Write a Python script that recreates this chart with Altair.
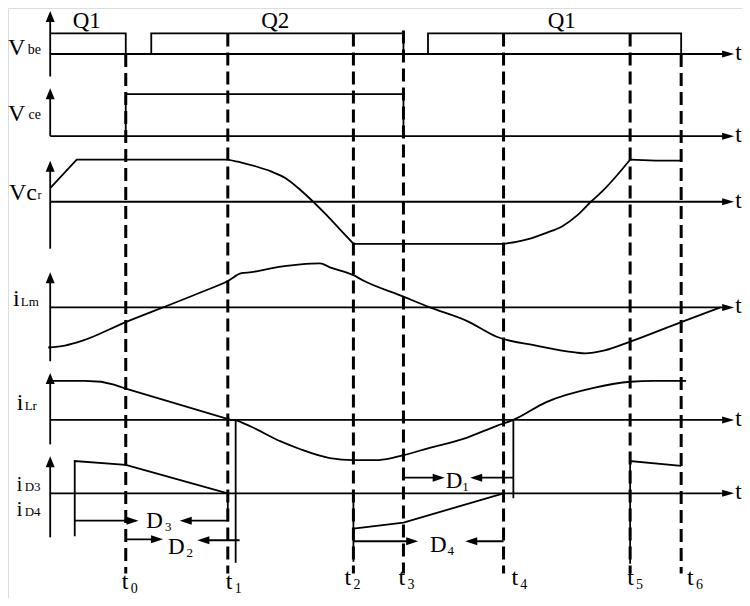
import altair as alt
import pandas as pd

# ---------------- diagram data (drawing units; y grows downward) ----------------
T_ORIGIN = 45          # time origin (vertical axes)
T_ARROW = 742          # tip of the time axes

# switching instants t0..t6
EVENT_NAMES = ["0", "1", "2", "3", "4", "5", "6"]
EVENT_T = [122, 226, 354, 405, 507, 636, 688]
EVENT_DASH_TOP = [49, 28, 28, 25, 28, 28, 49]
EVENT_DASH_BOTTOM = [580, 580, 580, 580, 580, 580, 580]
EVENT_LABEL_T = [118, 224, 345, 400, 515, 633, 694]
EVENT_LABEL_Y = [596, 596, 592, 592, 592, 592, 592]

# rows of the diagram: Vbe, Vce, Vcr, iLm, iLr, iD
ROW_BASE = [49, 133, 200, 308, 423, 498]
ROW_AXIS_TOP = [5, 84, 158, 272, 375, 460]
ROW_AXIS_BOTTOM = [72, 133, 248, 363, 448, 543]

# waveforms: time, value (positive = up, relative to the row baseline)
VBE_T = [45, 122, 122, 148, 148, 405, 405, 430, 430, 688, 688]
VBE_V = [21, 21, 0, 0, 21, 21, 0, 0, 21, 21, 0]

VCE_T = [122, 122, 405, 405]
VCE_V = [0, 43, 43, 0]

# resonant capacitor voltage: straight pieces and resonant (curved) pieces
VCR_LIN_A_T = [45, 72, 226]
VCR_LIN_A_V = [14, 43, 43]
VCR_FALL_T = [226, 240, 255, 270, 285, 300, 313, 325, 340, 354]
VCR_FALL_V = [43, 40, 36, 31, 24, 12, 0, -12, -28, -43]
VCR_LIN_B_T = [354, 507]
VCR_LIN_B_V = [-43, -43]
VCR_RISE_T = [507, 520, 533, 550, 567, 582, 596, 608, 620, 636]
VCR_RISE_V = [-43, -41, -38, -32, -25, -14, 0, 11, 24, 43]
VCR_LIN_C_T = [636, 662, 688]
VCR_LIN_C_V = [43, 42, 42]

ILM_T = [43, 60, 78, 122, 160, 200, 226, 240, 250, 270, 300, 320, 330, 354, 363, 405, 432, 470, 500,
         540, 580, 590, 610, 636, 688, 728]
ILM_V = [-41, -39, -34, -15, 0, 16, 27, 35, 36, 40, 44, 45, 41, 33, 28, 11, 0, -14, -30,
         -39, -46, -47, -44, -35, -15, 0]

# resonant current: straight decay to t1, then resonant curve
ILR_LIN_T = [45, 80, 97, 110, 122, 229, 234]
ILR_LIN_V = [40, 40, 39, 36, 32, 0, 0]
ILR_CURVE_T = [234, 250, 280, 300, 330, 354, 380, 405, 430, 470, 500, 517,
               550, 600, 636, 660, 693]
ILR_CURVE_V = [0, -7, -22, -30, -39, -41, -41, -36, -29, -18, -6, 0,
               18, 33, 39, 40, 40]

# diode currents (row iD)
ID3A_T = [70, 70, 122, 226]
ID3A_V = [-44, 33, 29, 0]
ID4_T = [354, 405, 507]
ID4_V = [-36, -30, 0]
ID4_EDGE_T = [354, 354]
ID4_EDGE_V = [0, -70]
ID3B_T = [636, 636, 688]
ID3B_V = [-72, 33, 28]
# commutation markers (solid verticals after t1 and t4)
MARK1_T = [234, 234]
MARK1_V = [75, -71]
MARK2_T = [517, 517]
MARK2_V = [75, -5]

# conduction-interval arrows in the iD row: start time, tip time, level, direction
ARROW_START = [70, 226, 122, 238, 405, 517, 354, 507]
ARROW_TIP = [135, 177, 160, 195, 447, 473, 420, 468]
ARROW_LEVEL = [-28, -28, -47, -48, 16, 16, -49, -49]
ARROW_DIR = ["right", "left", "right", "left", "right", "left", "right", "left"]

# texts: string, x, baseline y, font size
TXT_S = ["Q1", "Q2", "Q1",
         "V", "be", "V", "ce", "Vc", "r", "i", "Lm", "i", "Lr", "i", "D3", "i", "D4",
         "D", "3", "D", "2", "D", "1", "D", "4"]
TXT_X = [68, 260, 552,
         2, 22, 2, 23, 3, 32, 7, 15, 11, 19, 11, 19, 11, 19,
         143, 162, 165, 184, 448, 465, 432, 450]
TXT_Y = [22, 22, 22,
         50, 49, 118, 115, 198, 197, 307, 307, 413, 413, 496, 496, 521, 521,
         533, 537, 560, 563, 493, 496, 558, 561]
TXT_F = [23, 23, 23,
         24, 14, 24, 14, 24, 12, 24, 13, 24, 13, 20, 13, 20, 13,
         23, 13, 23, 13, 23, 13, 23, 13]

# ---------------- build tables ----------------
lines = []


def trace(name, row, ts, vs, smooth=False):
    for i, (t, v) in enumerate(zip(ts, vs)):
        lines.append({"seg": name, "i": i, "x": t, "y": ROW_BASE[row] - v, "smooth": smooth})


trace("vbe", 0, VBE_T, VBE_V)
trace("vce", 1, VCE_T, VCE_V)
trace("vcr_a", 2, VCR_LIN_A_T, VCR_LIN_A_V)
trace("vcr_fall", 2, VCR_FALL_T, VCR_FALL_V, True)
trace("vcr_b", 2, VCR_LIN_B_T, VCR_LIN_B_V)
trace("vcr_rise", 2, VCR_RISE_T, VCR_RISE_V, True)
trace("vcr_c", 2, VCR_LIN_C_T, VCR_LIN_C_V)
trace("ilm", 3, ILM_T, ILM_V, True)
trace("ilr_lin", 4, ILR_LIN_T, ILR_LIN_V)
trace("ilr_curve", 4, ILR_CURVE_T, ILR_CURVE_V, True)
trace("id3a", 5, ID3A_T, ID3A_V)
trace("id4", 5, ID4_T, ID4_V)
trace("id4e", 5, ID4_EDGE_T, ID4_EDGE_V)
trace("id3b", 5, ID3B_T, ID3B_V)
trace("m1", 5, MARK1_T, MARK1_V)
trace("m2", 5, MARK2_T, MARK2_V)

heads = []
for r, base in enumerate(ROW_BASE):
    # time axis with arrow
    lines.append({"seg": f"tax{r}", "i": 0, "x": T_ORIGIN, "y": base, "smooth": False})
    lines.append({"seg": f"tax{r}", "i": 1, "x": T_ARROW - 8, "y": base, "smooth": False})
    heads.append({"x": T_ARROW, "y": base, "kind": "taxis"})
    # vertical axis with arrow
    lines.append({"seg": f"vax{r}", "i": 0, "x": T_ORIGIN, "y": ROW_AXIS_BOTTOM[r], "smooth": False})
    lines.append({"seg": f"vax{r}", "i": 1, "x": T_ORIGIN, "y": ROW_AXIS_TOP[r] + 8, "smooth": False})
    heads.append({"x": T_ORIGIN, "y": ROW_AXIS_TOP[r], "kind": "up"})

for k, (s, tip, lev, d) in enumerate(zip(ARROW_START, ARROW_TIP, ARROW_LEVEL, ARROW_DIR)):
    y = ROW_BASE[5] - lev
    idx = 0
    if k == 1:  # D3 return arrow starts at the iD3 zero crossing at t1
        lines.append({"seg": f"arr{k}", "i": idx, "x": s, "y": ROW_BASE[5], "smooth": False})
        idx += 1
    lines.append({"seg": f"arr{k}", "i": idx, "x": s, "y": y, "smooth": False})
    lines.append({"seg": f"arr{k}", "i": idx + 1, "x": tip + (-6 if d == "right" else 6), "y": y,
                  "smooth": False})
    heads.append({"x": tip, "y": y, "kind": d})

texts = [{"s": s, "x": x, "y": y, "f": f} for s, x, y, f in zip(TXT_S, TXT_X, TXT_Y, TXT_F)]
for base in ROW_BASE:
    texts.append({"s": "t", "x": 743, "y": base + 6, "f": 23})
for n, lx, ly in zip(EVENT_NAMES, EVENT_LABEL_T, EVENT_LABEL_Y):
    texts.append({"s": "t", "x": lx, "y": ly, "f": 24})
    texts.append({"s": n, "x": lx + 9, "y": ly + 4, "f": 14})

dashes = pd.DataFrame({"x": EVENT_T, "y": EVENT_DASH_TOP, "y2": EVENT_DASH_BOTTOM})
line_df = pd.DataFrame(lines)
head_df = pd.DataFrame(heads)
text_df = pd.DataFrame(texts)

# ---------------- chart ----------------
xs = alt.Scale(domain=[2, 750], nice=False, zero=False)
ys = alt.Scale(domain=[2, 605], nice=False, zero=False, reverse=True)
X = alt.X("x:Q", scale=xs, axis=None)
Y = alt.Y("y:Q", scale=ys, axis=None)

straight_lines = alt.Chart(line_df).transform_filter(alt.datum.smooth == False).mark_line(
    color="black", strokeWidth=1.8, interpolate="linear"
).encode(x=X, y=Y, detail="seg:N", order="i:Q")

curves = alt.Chart(line_df).transform_filter(alt.datum.smooth == True).mark_line(
    color="black", strokeWidth=1.8, interpolate="monotone"
).encode(x=X, y=Y, detail="seg:N", order="i:Q")

dash_layer = alt.Chart(dashes).mark_rule(color="black", strokeWidth=3, strokeDash=[13, 6]).encode(
    x=X, y=Y, y2="y2:Q"
)

SHAPES = {
    "taxis": "M0,0L-12,-3.5L-12,3.5Z",
    "up": "M0,0L-4.5,11L4.5,11Z",
    "right": "M0,0L-12,-4L-12,4Z",
    "left": "M0,0L12,-4L12,4Z",
}
head_layers = [
    alt.Chart(head_df).transform_filter(alt.datum.kind == k).mark_point(
        shape=p, filled=True, size=4, color="black", opacity=1, strokeWidth=0
    ).encode(x=X, y=Y)
    for k, p in SHAPES.items()
]

text_layer = alt.Chart(text_df).mark_text(
    align="left", baseline="alphabetic", font="Liberation Serif", color="black"
).encode(x=X, y=Y, text="s:N", size=alt.Size("f:Q", scale=None, legend=None))

chart = alt.layer(dash_layer, straight_lines, curves, *head_layers, text_layer).properties(
    width=734, height=590, padding=0, autosize=alt.AutoSizeParams(type="none")
).configure_view(stroke=None).configure(background="white")

chart.save("out.html", embed_options={"renderer": "svg", "actions": False})
